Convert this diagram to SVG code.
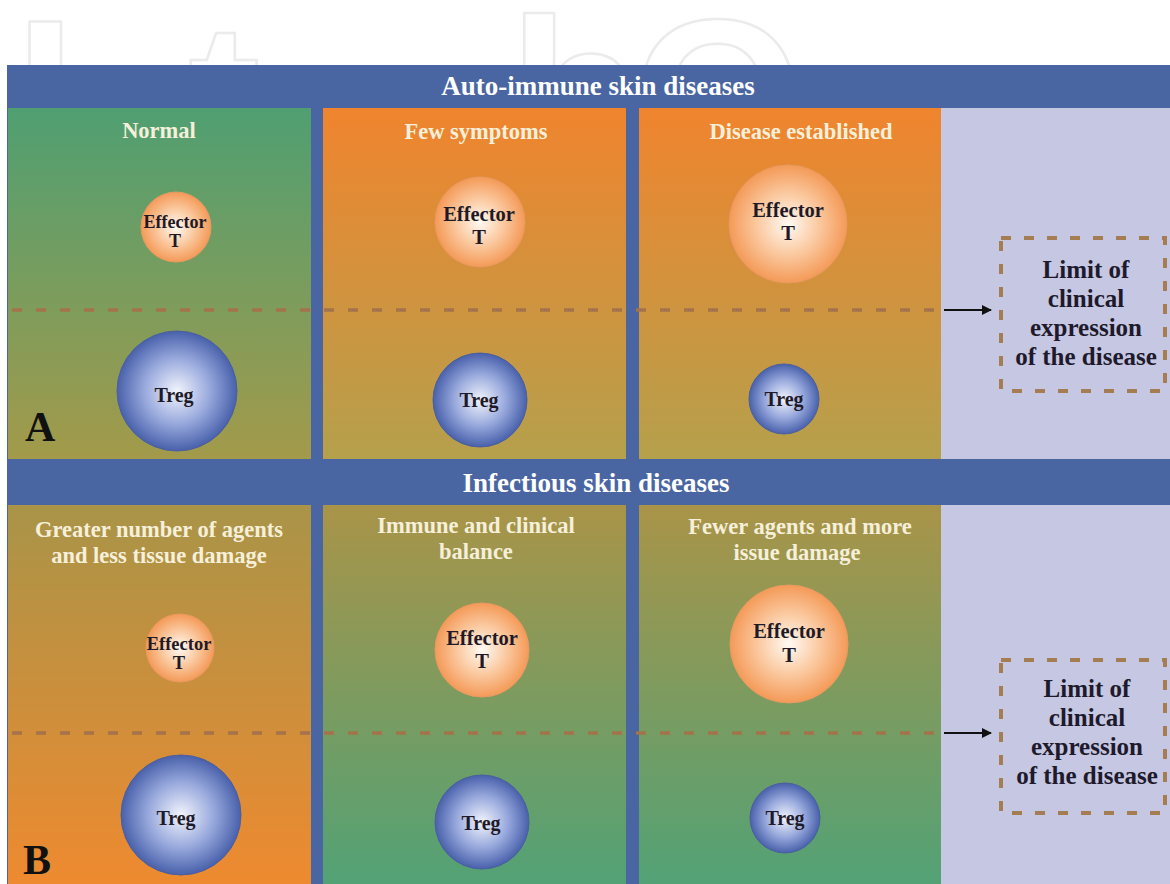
<svg xmlns="http://www.w3.org/2000/svg" width="1170" height="884" viewBox="0 0 1170 884">
<defs>
<style>
.hdr{font-family:"Liberation Serif","Times New Roman",serif;font-weight:bold;font-size:27px;fill:#ffffff;text-anchor:middle}
.ttl{font-family:"Liberation Serif","Times New Roman",serif;font-weight:bold;font-size:22.5px;fill:#f6f0da;text-anchor:middle}
.cell{font-family:"Liberation Serif","Times New Roman",serif;font-weight:bold;fill:#1e1a28;text-anchor:middle}
.lim{font-family:"Liberation Serif","Times New Roman",serif;font-weight:bold;font-size:25px;fill:#1e1a2c;text-anchor:middle}
.big{font-family:"Liberation Serif","Times New Roman",serif;font-weight:bold;font-size:42px;fill:#111111}
.dash{stroke:#a4734b;stroke-width:3.5;stroke-dasharray:10 14;fill:none}
.box{stroke:#a57d52;stroke-width:4;stroke-dasharray:10 13;fill:none}
.eff{fill:url(#gEff);stroke:#e79a62;stroke-width:1}
.treg{fill:url(#gTreg);stroke:#4a5f9f;stroke-width:1}
.wm{font-family:"Liberation Sans",Arial,sans-serif;font-weight:bold;font-size:218px;fill:none;stroke:#ebebeb;stroke-width:2.5;stroke-linejoin:round}
</style>
<clipPath id="wmClip"><rect x="0" y="0" width="1170" height="65"/></clipPath>
<linearGradient id="gA1" x1="0" y1="0" x2="0" y2="1"><stop offset="0" stop-color="#4f9f72"/><stop offset="1" stop-color="#a39a4a"/></linearGradient>
<linearGradient id="gA2" x1="0" y1="0" x2="0" y2="1"><stop offset="0" stop-color="#f0842e"/><stop offset="1" stop-color="#b5a04c"/></linearGradient>
<linearGradient id="gB1" x1="0" y1="0" x2="0" y2="1"><stop offset="0" stop-color="#a99448"/><stop offset="1" stop-color="#ee8a30"/></linearGradient>
<linearGradient id="gB2" x1="0" y1="0" x2="0" y2="1"><stop offset="0" stop-color="#a99448"/><stop offset="1" stop-color="#52a276"/></linearGradient>
<radialGradient id="gEff" cx="0.5" cy="0.5" r="0.5"><stop offset="0" stop-color="#fffaf4"/><stop offset="0.5" stop-color="#fbcba3"/><stop offset="1" stop-color="#f49a58"/></radialGradient>
<radialGradient id="gTreg" cx="0.5" cy="0.5" r="0.5"><stop offset="0" stop-color="#f2f4fc"/><stop offset="0.55" stop-color="#97a8dc"/><stop offset="1" stop-color="#4961ab"/></radialGradient>
<marker id="arr" markerWidth="10" markerHeight="10" refX="9" refY="5" orient="auto" markerUnits="userSpaceOnUse"><path d="M0,0 L10,5 L0,10 Z" fill="#111111"/></marker>
</defs>
<rect width="1170" height="884" fill="#ffffff"/>
<g id="watermark" clip-path="url(#wmClip)">
<text class="wm" x="15" y="171">I</text>
<text class="wm" x="61" y="187">n</text>
<text class="wm" x="188" y="175">t</text>
<text class="wm" x="267" y="187">e</text>
<text class="wm" x="392" y="187">c</text>
<text class="wm" x="509" y="171">h</text>
<text class="wm" x="633" y="171">O</text>
<text class="wm" x="794" y="187">p</text>
<text class="wm" x="929" y="187">e</text>
<text class="wm" x="1047" y="187">n</text>
</g>
<rect id="frame" x="7" y="65" width="1163" height="819" fill="#4a66a2"/>
<g id="header-A"><text class="hdr" x="598" y="95">Auto-immune skin diseases</text></g>
<g id="header-B"><text class="hdr" x="596" y="492">Infectious skin diseases</text></g>
<g id="panel-A1">
<rect x="8" y="108" width="303" height="351" fill="url(#gA1)"/>
<text class="ttl" x="159" y="138">Normal</text>
</g>
<g id="panel-A2">
<rect x="323" y="108" width="303" height="351" fill="url(#gA2)"/>
<text class="ttl" x="476" y="139">Few symptoms</text>
</g>
<g id="panel-A3">
<rect x="639" y="108" width="302" height="351" fill="url(#gA2)"/>
<text class="ttl" x="801" y="139">Disease established</text>
</g>
<rect id="panel-A4" x="941" y="108" width="229" height="351" fill="#c6c7e3"/>
<g id="panel-B1">
<rect x="8" y="505" width="303" height="379" fill="url(#gB1)"/>
<text class="ttl" x="159" y="537">Greater number of agents</text>
<text class="ttl" x="159" y="563">and less tissue damage</text>
</g>
<g id="panel-B2">
<rect x="323" y="505" width="303" height="379" fill="url(#gB2)"/>
<text class="ttl" x="476" y="533">Immune and clinical</text>
<text class="ttl" x="476" y="559">balance</text>
</g>
<g id="panel-B3">
<rect x="639" y="505" width="302" height="379" fill="url(#gB2)"/>
<text class="ttl" x="800" y="534">Fewer agents and more</text>
<text class="ttl" x="797" y="560">issue damage</text>
</g>
<rect id="panel-B4" x="941" y="505" width="229" height="379" fill="#c6c7e3"/>
<g id="connectors">
<line class="dash" x1="12" y1="310" x2="940" y2="310"/>
<line class="dash" x1="12" y1="733" x2="940" y2="733"/>
<line x1="944" y1="310" x2="991" y2="310" stroke="#111111" stroke-width="2" marker-end="url(#arr)"/>
<line x1="944" y1="733" x2="991" y2="733" stroke="#111111" stroke-width="2" marker-end="url(#arr)"/>
</g>
<g id="A-eff-1"><circle class="eff" cx="176" cy="227" r="35"/><text class="cell" font-size="18" x="175" y="228">Effector</text><text class="cell" font-size="18" x="175" y="247">T</text></g>
<g id="A-treg-1"><circle class="treg" cx="177" cy="391" r="60"/><text class="cell" font-size="20" x="174" y="402">Treg</text></g>
<g id="A-eff-2"><circle class="eff" cx="480" cy="222" r="45"/><text class="cell" font-size="20.5" x="479" y="221">Effector</text><text class="cell" font-size="20.5" x="479" y="244">T</text></g>
<g id="A-treg-2"><circle class="treg" cx="480" cy="400" r="47"/><text class="cell" font-size="20" x="479" y="407">Treg</text></g>
<g id="A-eff-3"><circle class="eff" cx="788" cy="224" r="59"/><text class="cell" font-size="20.5" x="788" y="217">Effector</text><text class="cell" font-size="20.5" x="788" y="240">T</text></g>
<g id="A-treg-3"><circle class="treg" cx="784" cy="399" r="35"/><text class="cell" font-size="20" x="784" y="406">Treg</text></g>
<g id="B-eff-1"><circle class="eff" cx="180" cy="648" r="34"/><text class="cell" font-size="18.5" x="179" y="650">Effector</text><text class="cell" font-size="18.5" x="179" y="669">T</text></g>
<g id="B-treg-1"><circle class="treg" cx="181" cy="815" r="60"/><text class="cell" font-size="20" x="176" y="825">Treg</text></g>
<g id="B-eff-2"><circle class="eff" cx="482" cy="650" r="47"/><text class="cell" font-size="20.5" x="482" y="645">Effector</text><text class="cell" font-size="20.5" x="482" y="668">T</text></g>
<g id="B-treg-2"><circle class="treg" cx="482" cy="822" r="47"/><text class="cell" font-size="20" x="481" y="830">Treg</text></g>
<g id="B-eff-3"><circle class="eff" cx="789" cy="644" r="59"/><text class="cell" font-size="20.5" x="789" y="638">Effector</text><text class="cell" font-size="20.5" x="789" y="662">T</text></g>
<g id="B-treg-3"><circle class="treg" cx="785" cy="818" r="35"/><text class="cell" font-size="20" x="785" y="825">Treg</text></g>
<g id="limit-A">
<rect class="box" x="1001" y="238" width="164" height="153"/>
<text class="lim" x="1086" y="278">Limit of</text>
<text class="lim" x="1086" y="307">clinical</text>
<text class="lim" x="1086" y="336">expression</text>
<text class="lim" x="1086" y="365">of the disease</text>
</g>
<g id="limit-B">
<rect class="box" x="1001" y="660" width="164" height="153"/>
<text class="lim" x="1087" y="697">Limit of</text>
<text class="lim" x="1087" y="726">clinical</text>
<text class="lim" x="1087" y="755">expression</text>
<text class="lim" x="1087" y="784">of the disease</text>
</g>
<text class="big" x="25" y="441">A</text>
<text class="big" x="23" y="874">B</text>
</svg>
